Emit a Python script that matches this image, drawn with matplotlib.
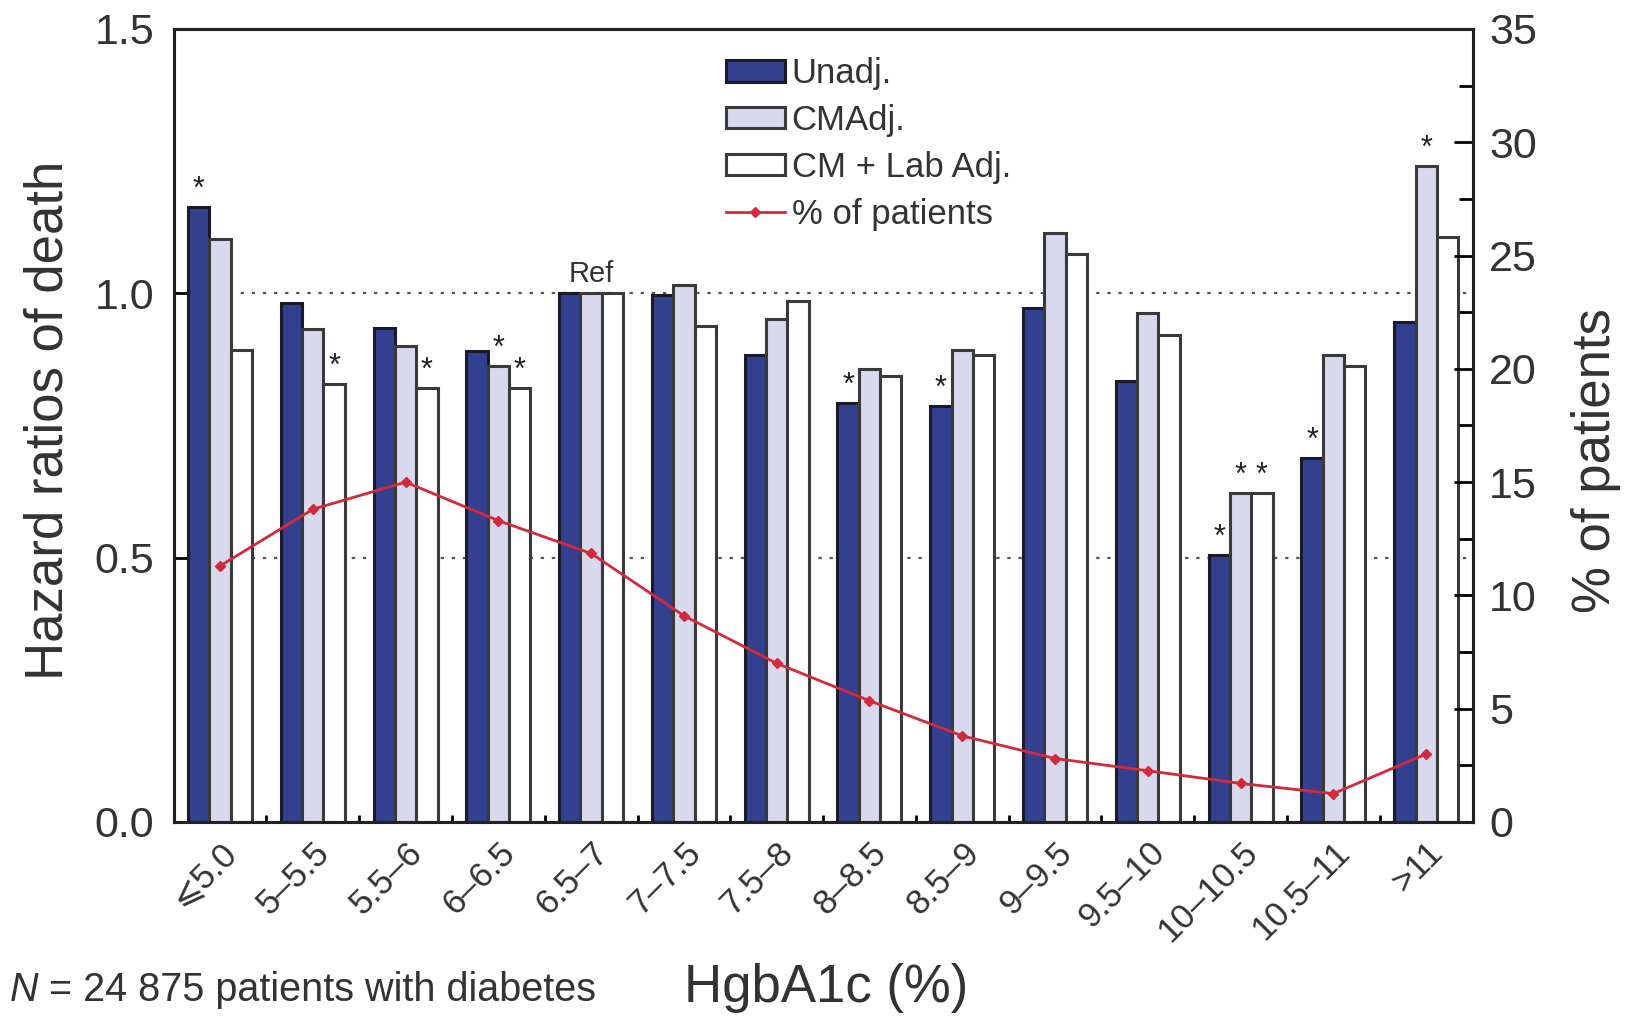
import numpy as np
import matplotlib
matplotlib.use("Agg")
import matplotlib.pyplot as plt
from matplotlib.ticker import MultipleLocator
import matplotlib.transforms as mtransforms

plt.rcParams['font.family'] = ['Liberation Sans', 'DejaVu Sans']

# HgbA1c categories
categories = ['⩽5.0', '5–5.5', '5.5–6', '6–6.5', '6.5–7', '7–7.5', '7.5–8',
              '8–8.5', '8.5–9', '9–9.5', '9.5–10', '10–10.5', '10.5–11', '>11']

# Hazard ratios of death
unadj = [1.164, 0.982, 0.935, 0.890, 1.0, 0.996, 0.884,
         0.793, 0.787, 0.972, 0.834, 0.505, 0.688, 0.945]
cm_adj = [1.103, 0.933, 0.901, 0.862, 1.0, 1.016, 0.951,
          0.856, 0.892, 1.114, 0.963, 0.623, 0.884, 1.241]
cm_lab_adj = [0.893, 0.828, 0.820, 0.820, 1.0, 0.939, 0.986,
              0.844, 0.884, 1.075, 0.921, 0.623, 0.862, 1.107]

# % of patients (right axis)
pct_patients = [11.3, 13.8, 15.0, 13.3, 11.85, 9.1, 7.0,
                5.35, 3.8, 2.8, 2.26, 1.7, 1.25, 3.0]

# significance stars: (category index, series index 0/1/2)
stars = [(0, 0), (1, 2), (2, 2), (3, 1), (3, 2), (7, 0), (8, 0),
         (11, 0), (11, 1), (11, 2), (12, 0), (13, 1)]

fig = plt.figure(figsize=(16.38, 10.16), dpi=100)
ax = fig.add_axes([0.106, 0.191, 0.793, 0.7805])

x = np.arange(len(categories))
w = 0.23
series = [unadj, cm_adj, cm_lab_adj]
colors = ['#33408f', '#d9d9ee', '#ffffff']
edges = ['#1a1a2a', '#3a3a3a', '#3a3a3a']
for i, (vals, c, e) in enumerate(zip(series, colors, edges)):
    ax.bar(x + (i - 1) * w, vals, w, color=c, edgecolor=e, linewidth=2.2, zorder=3)

for ci, si in stars:
    ax.text(x[ci] + (si - 1) * w, series[si][ci] + 0.004, '*', ha='center',
            va='bottom', fontsize=22, color='#222222', zorder=5)
ax.text(x[4], 1.01, 'Ref', ha='center', va='bottom', fontsize=21, color='#333333')

for yv in (0.5, 1.0):
    ax.axhline(yv, color='#555555', linestyle=(0, (1.5, 3.5)), linewidth=1.6, zorder=1)

ax.set_xlim(-0.5, len(categories) - 0.5)
ax.set_ylim(0, 1.5)
ax.set_yticks([0.0, 0.5, 1.0, 1.5])
ax.set_yticklabels(['0.0', '0.5', '1.0', '1.5'])
ax.tick_params(axis='y', direction='in', length=12, width=2, labelsize=31, pad=14,
               labelcolor='#333333')
ax.set_xticks(x)
ax.set_xticklabels(categories, rotation=45, ha='right', rotation_mode='anchor',
                   fontsize=25, color='#333333')
offset = mtransforms.ScaledTranslation(0.05, -0.02, fig.dpi_scale_trans)
for lab in ax.get_xticklabels():
    lab.set_transform(lab.get_transform() + offset)
ax.set_xticks(x[:-1] + 0.5, minor=True)
ax.tick_params(axis='x', which='major', length=0, pad=10)
ax.tick_params(axis='x', which='minor', direction='in', length=5, width=2)
for sp in ax.spines.values():
    sp.set_linewidth(2.2)
    sp.set_color('#222222')

ax.set_ylabel('Hazard ratios of death', fontsize=38, color='#333333')
ax.yaxis.set_label_coords(-0.077, 0.507)
ax.set_xlabel('HgbA1c (%)', fontsize=38, color='#333333')
ax.xaxis.set_label_coords(0.502, -0.178)

ax2 = ax.twinx()
ax2.plot(x, pct_patients, color='#d4293b', linewidth=2, marker='D', markersize=5,
         label='% of patients', zorder=4)
ax2.set_ylim(0, 35)
ax2.yaxis.set_major_locator(MultipleLocator(5))
ax2.yaxis.set_minor_locator(MultipleLocator(2.5))
ax2.tick_params(axis='y', which='major', direction='in', length=14, width=2,
                labelsize=31, pad=12, labelcolor='#333333')
ax2.tick_params(axis='y', which='minor', direction='in', length=10, width=2)
ax2.set_ylabel('% of patients', fontsize=38, color='#333333')
ax2.yaxis.set_label_coords(1.076, 0.456)
for sp in ax2.spines.values():
    sp.set_linewidth(2.2)
    sp.set_color('#222222')

handles = [plt.Rectangle((0, 0), 1, 1, facecolor=c, edgecolor=e, linewidth=2.2)
           for c, e in zip(colors, edges)]
handles += ax2.get_legend_handles_labels()[0]
labels = ['Unadj.', 'CMAdj.', 'CM + Lab Adj.', '% of patients']
ax2.legend(handles, labels, loc='upper left', bbox_to_anchor=(0.401, 1.004),
           frameon=False, fontsize=25, handlelength=1.7, handleheight=0.58,
           labelspacing=0.4, handletextpad=0.2, labelcolor='#333333')

n_txt = fig.text(0.006, 0.015, 'N', fontsize=28.5, style='italic', color='#333333')
ax.annotate(' = 24 875 patients with diabetes', xy=(1, 0), xycoords=n_txt,
            va='bottom', fontsize=28.5, color='#333333', annotation_clip=False)

fig.savefig('out.png', dpi=100)
